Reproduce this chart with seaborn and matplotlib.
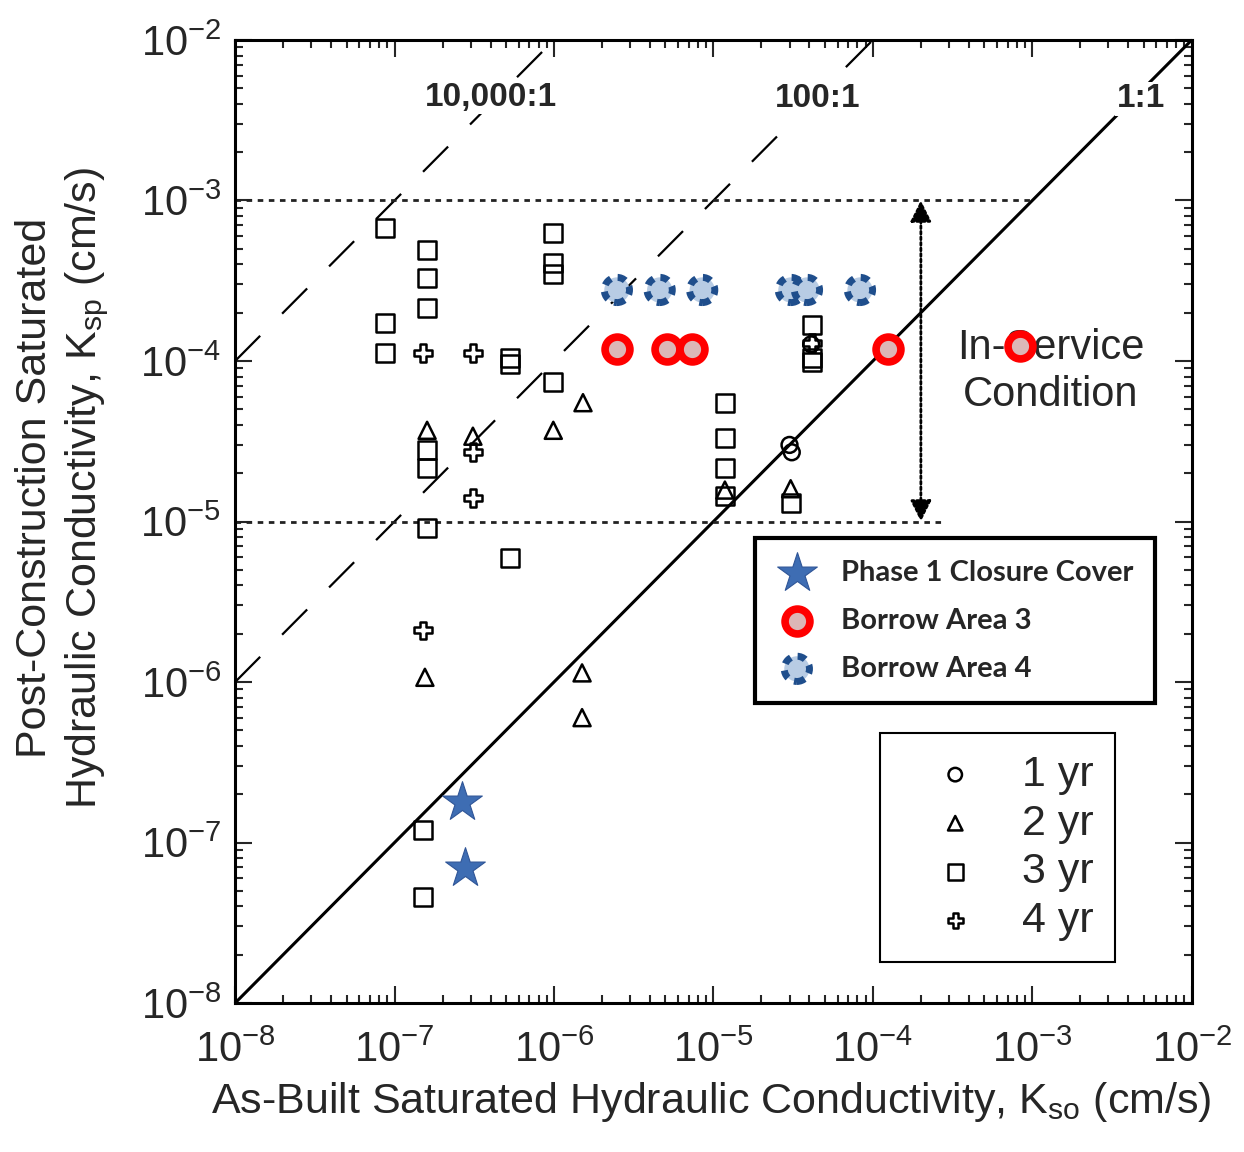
import numpy as np
import pandas as pd
import matplotlib
matplotlib.use("Agg")
import matplotlib.pyplot as plt
from matplotlib.patches import FancyArrowPatch
from matplotlib.ticker import LogLocator, NullFormatter
import seaborn as sns

# ---------------------------------------------------------------
# DATA: as-built (x) vs post-construction (y) Ksat, cm/s
# ---------------------------------------------------------------
yr1_x = [3.0e-5, 3.1e-5, 4.1e-5]
yr1_y = [3.0e-5, 2.7e-5, 1.27e-4]

yr2_x = [1.6e-7, 1.55e-7, 3.1e-7, 9.9e-7, 1.52e-6, 1.5e-6, 1.5e-6, 1.18e-5, 3.05e-5]
yr2_y = [3.7e-5, 1.07e-6, 3.4e-5, 3.7e-5, 5.5e-5, 1.14e-6, 6.0e-7, 1.57e-5, 1.6e-5]

yr3_x = [8.7e-8, 8.7e-8, 8.7e-8, 1.59e-7, 1.59e-7, 1.59e-7, 1.6e-7, 1.6e-7, 1.59e-7,
         1.51e-7, 1.51e-7, 5.3e-7, 5.3e-7, 5.3e-7, 9.9e-7, 9.9e-7, 9.9e-7, 9.9e-7,
         1.18e-5, 1.18e-5, 1.18e-5, 1.18e-5, 3.05e-5, 4.15e-5, 4.15e-5, 4.15e-5]
yr3_y = [6.7e-4, 1.73e-4, 1.12e-4, 4.9e-4, 3.3e-4, 2.14e-4, 2.79e-5, 2.15e-5, 9.1e-6,
         1.2e-7, 4.6e-8, 1.05e-4, 9.6e-5, 5.9e-6, 6.3e-4, 4.1e-4, 3.5e-4, 7.4e-5,
         5.5e-5, 3.3e-5, 2.15e-5, 1.45e-5, 1.3e-5, 1.68e-4, 1.05e-4, 9.9e-5]

yr4_x = [1.51e-7, 3.1e-7, 3.1e-7, 3.1e-7, 1.51e-7, 4.15e-5]
yr4_y = [1.12e-4, 1.12e-4, 2.71e-5, 1.4e-5, 2.1e-6, 1.29e-4]

phase1_x = [2.65e-7, 2.75e-7]
phase1_y = [1.79e-7, 6.9e-8]

ba3_x = [2.48e-6, 5.1e-6, 7.3e-6, 1.24e-4, 8.4e-4]
ba3_y = [1.19e-4, 1.19e-4, 1.19e-4, 1.19e-4, 1.24e-4]

ba4_x = [2.48e-6, 4.6e-6, 8.5e-6, 3.06e-5, 3.86e-5, 8.3e-5]
ba4_y = [2.77e-4, 2.77e-4, 2.77e-4, 2.77e-4, 2.77e-4, 2.77e-4]

ratios = [1, 100, 10000]
ratio_labels = ["1:1", "100:1", "10,000:1"]

# ---------------------------------------------------------------
# STYLE
# ---------------------------------------------------------------
sns.set_style("ticks")
plt.rcParams["font.family"] = ["Liberation Sans Narrow", "Liberation Sans", "DejaVu Sans"]
plt.rcParams["mathtext.default"] = "regular"

fig = plt.figure(figsize=(12.44, 11.52), dpi=100)
ax = fig.add_axes([0.189, 0.1293, 0.769, 0.836])
ax.set_xscale("log")
ax.set_yscale("log")

# reference ratio lines
xx = np.array([1e-8, 1e-2])
for r in ratios:
    if r == 1:
        ax.plot(xx, xx * r, color="black", lw=2.2, zorder=2)
    else:
        ax.plot(xx, xx * r, color="black", lw=1.6, ls=(0, (16, 14)), zorder=2)

# in-service band
ax.plot([1e-8, 1e-3], [1e-3, 1e-3], color="#222222", lw=2, ls=(0, (2, 2)), zorder=2)
ax.plot([1e-8, 2.8e-4], [1e-5, 1e-5], color="#222222", lw=2, ls=(0, (2, 2)), zorder=2)
ax.add_patch(FancyArrowPatch((2.0e-4, 1.0e-3), (2.0e-4, 1.0e-5), arrowstyle="<|-|>",
                             color="black", lw=2, ls=(0, (1, 1)), mutation_scale=32,
                             shrinkA=0, shrinkB=0, zorder=2))

hollow = dict(facecolor="none", edgecolor="black", linewidth=1.8, legend=False, ax=ax, zorder=3)
sns.scatterplot(x=yr1_x, y=yr1_y, marker="o", s=130, label="1 yr", **hollow)
sns.scatterplot(x=yr2_x, y=yr2_y, marker="^", s=150, label="2 yr", **hollow)
sns.scatterplot(x=yr3_x, y=yr3_y, marker="s", s=170, label="3 yr", **hollow)
sns.scatterplot(x=yr4_x, y=yr4_y, marker="P", s=160, label="4 yr", **hollow)

sns.scatterplot(x=phase1_x, y=phase1_y, marker="*", s=900, color="#3e6db3",
                edgecolor="#2f5597", linewidth=0.8, label="Phase 1 Closure Cover",
                legend=False, ax=ax, zorder=4)
sns.scatterplot(x=ba3_x, y=ba3_y, marker="o", s=320, facecolor="#dcb7b7",
                edgecolor="#ff0000", linewidth=5.5, label="Borrow Area 3",
                legend=False, ax=ax, zorder=4)
sns.scatterplot(x=ba4_x, y=ba4_y, marker="o", s=330, facecolor="#b8cce4",
                edgecolor="#1f4e8c", linewidth=5, linestyle=(0, (1.2, 1.0)),
                label="Borrow Area 4", legend=False, ax=ax, zorder=4)

# annotations (white boxes break the guide lines like the original)
box = dict(facecolor="white", edgecolor="none", pad=1)
ax.text(4.0e-7, 4.4e-3, ratio_labels[2], fontsize=24, fontweight="bold",
        ha="center", va="center", bbox=box, zorder=5)
ax.text(4.5e-5, 4.3e-3, ratio_labels[1], fontsize=24, fontweight="bold",
        ha="center", va="center", bbox=box, zorder=5)
ax.text(4.8e-3, 4.3e-3, ratio_labels[0], fontsize=24, fontweight="bold",
        ha="center", va="center", bbox=box, zorder=5)
ax.text(1.3e-3, 8.6e-5, "In-Service\nCondition", fontsize=30, ha="center", va="center",
        linespacing=1.2, zorder=3)

# axes
ax.set_xlim(1e-8, 1e-2)
ax.set_ylim(1e-8, 1e-2)
for axis in (ax.xaxis, ax.yaxis):
    axis.set_major_locator(LogLocator(base=10, numticks=20))
    axis.set_minor_locator(LogLocator(base=10, subs=np.arange(2, 10), numticks=20))
    axis.set_minor_formatter(NullFormatter())
ax.tick_params(which="both", direction="in", top=True, right=True, labelsize=30, width=1.5)
ax.tick_params(which="major", length=12)
ax.tick_params(which="minor", length=6)
ax.tick_params(axis="x", pad=20)
ax.tick_params(axis="y", pad=10)
for sp in ax.spines.values():
    sp.set_linewidth(2.2)
    sp.set_color("black")

ax.set_xlabel("As-Built Saturated Hydraulic Conductivity, K$_{so}$ (cm/s)", fontsize=31)
ax.set_ylabel("Post-Construction Saturated\nHydraulic Conductivity, K$_{sp}$ (cm/s)",
              fontsize=31, linespacing=1.25)
ax.xaxis.set_label_coords(0.498, -0.08)
ax.yaxis.set_label_coords(-0.13, 0.535)

# legends
handles, labels = ax.get_legend_handles_labels()
hmap = dict(zip(labels, handles))
names1 = ["Phase 1 Closure Cover", "Borrow Area 3", "Borrow Area 4"]
leg1 = ax.legend([hmap[k] for k in names1], names1,
                 loc="upper left", bbox_to_anchor=(0.543, 0.483), borderaxespad=0,
                 frameon=True, fancybox=False, framealpha=1, edgecolor="black",
                 scatterpoints=1, handlelength=1.4, handletextpad=0.8, borderpad=0.75,
                 labelspacing=0.75,
                 prop={"family": ["Lato", "DejaVu Sans"], "weight": "bold", "size": 21})
leg1.get_frame().set_linewidth(3)
ax.add_artist(leg1)

names2 = ["1 yr", "2 yr", "3 yr", "4 yr"]
leg2 = ax.legend([hmap[k] for k in names2], names2,
                 loc="upper left", bbox_to_anchor=(0.674, 0.280), borderaxespad=0,
                 frameon=True, fancybox=False, framealpha=1, edgecolor="black",
                 scatterpoints=1, handlelength=2.5, handletextpad=0.3, borderpad=0.5,
                 labelspacing=0.2, fontsize=31, markerscale=0.85)
leg2.get_frame().set_linewidth(1.5)

fig.savefig("out.png", dpi=100)
